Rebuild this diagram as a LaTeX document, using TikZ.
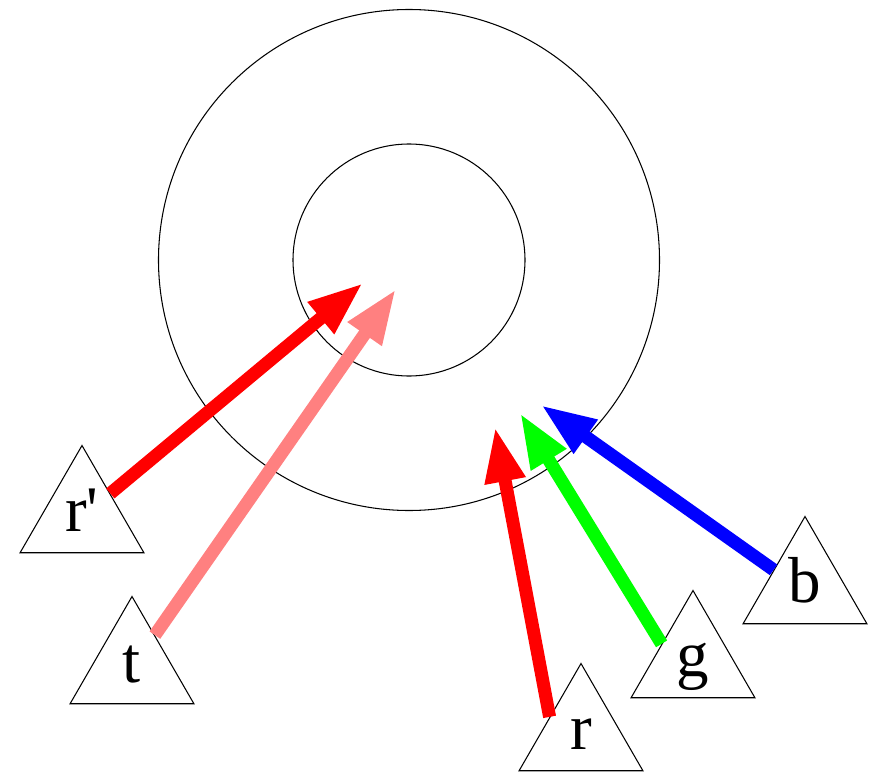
\documentclass[tikz,border=0pt]{standalone}
\usepackage{fontspec}
\setmainfont{Liberation Serif}
\usetikzlibrary{arrows.meta,shapes.geometric}
\definecolor{pink}{HTML}{FF8080}

\begin{document}
\begin{tikzpicture}[x=0.02cm,y=-0.02cm,
  tri/.style={draw,line width=0.6pt,regular polygon,regular polygon sides=3,
    minimum size=2.86cm,inner sep=0pt,text height=0.56cm,text depth=0pt,
    font=\fontsize{37}{40}\selectfont},
  ray/.style={-{Triangle[length=1.1cm,width=0.76cm]},line width=0.26cm}]
\useasboundingbox (0,0) rectangle (873,774);
\coordinate (hub) at (409,260);
\draw[line width=0.6pt] (hub) circle[radius=250.5];
\draw[line width=0.6pt] (hub) circle[radius=116];
% sources
\node[tri] (rp) at (82,517) {r\textquotesingle};
\node[tri] (t) at (132,668) {t};
\node[tri] (r) at (581,735) {r};
\node[tri] (g) at (693,662) {g};
\node[tri] (b) at (805,588) {b};
% arrow tips
\coordinate (rpend) at (363,283);
\coordinate (tend) at (396,289);
\coordinate (rend) at (495,427);
\coordinate (gend) at (520,413);
\coordinate (bend) at (541,405);
\draw[ray,red] (rp)--(rpend);
\draw[ray,pink] (t)--(tend);
\draw[ray,red] (r.side 1)--(rend);
\draw[ray,green] (g.side 1)--(gend);
\draw[ray,blue] (b.side 1)--(bend);
\end{tikzpicture}
\end{document}
